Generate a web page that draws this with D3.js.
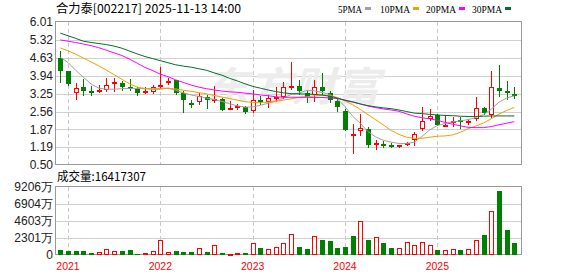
<!DOCTYPE html>
<html>
<head>
<meta charset="utf-8">
<script src="https://cdn.jsdelivr.net/npm/d3@7"></script>
<style>
  body { margin: 0; background: #fff; }
  svg { display: block; }
</style>
</head>
<body>
<div id="chart"></div>
<script>
// monthly k-line, 合力泰 002217
var months = ["2020-12",
  "2021-01","2021-02","2021-03","2021-04","2021-05","2021-06","2021-07","2021-08","2021-09","2021-10","2021-11","2021-12",
  "2022-01","2022-02","2022-03","2022-04","2022-05","2022-06","2022-07","2022-08","2022-09","2022-10","2022-11","2022-12",
  "2023-01","2023-02","2023-03","2023-04","2023-05","2023-06","2023-07","2023-08","2023-09","2023-10","2023-11","2023-12",
  "2024-01","2024-02","2024-03","2024-04","2024-05","2024-06","2024-07","2024-08","2024-09","2024-10","2024-11","2024-12",
  "2025-01","2025-02","2025-03","2025-04","2025-05","2025-06","2025-07","2025-08","2025-09","2025-10","2025-11"];

var open  = [4.62,4.12,3.26,3.50,3.36,3.33,3.40,3.65,3.65,3.52,3.43,3.30,3.33,3.50,3.65,3.76,3.26,2.90,2.93,3.11,
             3.00,3.06,2.67,2.68,2.73,2.57,3.00,2.91,3.08,3.13,3.46,3.54,3.27,3.18,3.50,3.26,2.98,2.59,1.67,1.80,
             1.89,1.26,1.31,1.28,1.23,1.27,1.46,1.89,2.28,2.44,2.03,2.12,2.25,2.17,2.26,2.70,2.41,3.47,3.36,3.25];
var high  = [4.88,4.14,3.66,3.83,3.56,3.57,3.85,3.84,3.72,3.80,3.50,3.49,3.58,4.28,3.85,3.79,3.36,3.00,3.27,3.21,
             3.56,3.08,2.95,2.85,2.77,3.39,3.14,3.18,3.49,3.71,4.47,3.76,3.40,3.76,4.03,3.34,3.08,2.67,2.08,2.46,
             1.95,1.46,1.41,1.36,1.28,1.38,1.76,2.72,2.67,2.46,2.41,2.35,2.36,2.28,3.11,2.73,4.11,4.34,3.72,3.49];
var low   = [3.68,3.60,3.06,3.21,3.18,3.30,3.36,3.36,3.40,3.40,3.21,3.26,3.27,3.47,3.61,3.24,2.54,2.72,2.85,2.70,
             2.91,2.62,2.66,2.66,2.50,2.54,2.85,2.72,2.98,3.08,3.44,3.24,2.93,2.95,3.21,2.93,2.57,1.86,0.97,1.67,
             1.18,1.11,1.18,1.18,1.18,1.26,1.28,1.86,2.25,2.03,2.02,1.99,1.92,2.09,2.23,2.46,2.36,3.16,3.04,3.08];
var close = [4.13,3.63,3.45,3.36,3.34,3.40,3.57,3.68,3.50,3.47,3.29,3.34,3.49,3.58,3.74,3.27,3.00,2.88,3.14,3.00,
             3.03,2.63,2.70,2.76,2.54,2.99,2.98,3.07,3.13,3.52,3.54,3.34,3.11,3.49,3.35,3.00,2.73,1.86,1.71,1.92,
             1.28,1.33,1.28,1.25,1.26,1.33,1.71,2.18,2.37,2.04,2.06,2.21,2.17,2.21,2.68,2.49,3.52,3.36,3.30,3.22];
// 成交量, 万
var volume = [677,542,542,542,271,361,767,496,542,677,135,226,496,1986,361,542,406,406,948,406,
              1309,271,135,271,271,1580,948,767,1083,1580,2798,1083,812,2527,2031,1895,948,1128,2572,4558,
              2031,2437,1625,948,903,1715,1309,1715,1309,677,632,767,677,767,1986,2708,5912,8665,3385,1642];

var ma5  = [4.65,4.45,4.15,3.88,3.62,3.46,3.42,3.42,3.44,3.45,3.45,3.44,3.41,3.42,3.46,3.38,3.28,3.20,3.14,3.08,
            3.02,2.95,2.86,2.78,2.73,2.74,2.80,2.88,2.96,3.08,3.22,3.27,3.37,3.36,3.30,3.22,3.05,2.75,2.38,2.10,
            1.78,1.58,1.45,1.38,1.33,1.33,1.38,1.60,1.85,2.02,2.10,2.16,2.20,2.25,2.33,2.44,2.65,2.92,3.08,3.17];
var ma10 = [5.01,4.90,4.77,4.62,4.47,4.32,4.15,3.98,3.80,3.63,3.50,3.45,3.44,3.45,3.46,3.43,3.38,3.34,3.29,3.24,
            3.18,3.12,3.06,3.00,2.94,2.91,2.90,2.92,2.96,3.00,3.05,3.10,3.13,3.16,3.18,3.18,3.10,2.97,2.82,2.64,
            2.44,2.24,2.04,1.83,1.68,1.57,1.53,1.53,1.57,1.61,1.62,1.66,1.76,1.90,2.00,2.12,2.28,2.46,2.60,2.72];
var ma20 = [5.32,5.27,5.22,5.16,5.10,5.02,4.92,4.82,4.72,4.58,4.42,4.26,4.14,4.00,3.90,3.78,3.68,3.58,3.50,3.44,
            3.39,3.35,3.32,3.30,3.27,3.24,3.20,3.17,3.13,3.11,3.11,3.11,3.11,3.10,3.10,3.09,3.06,3.00,2.93,2.85,
            2.77,2.71,2.66,2.62,2.57,2.47,2.38,2.32,2.28,2.22,2.14,2.07,2.01,1.95,1.94,1.94,1.98,2.05,2.11,2.17];
var ma30 = [5.58,5.48,5.38,5.27,5.22,5.18,5.14,5.08,5.00,4.89,4.78,4.68,4.60,4.52,4.44,4.36,4.31,4.27,4.21,4.15,
            4.05,3.96,3.84,3.74,3.63,3.53,3.46,3.39,3.33,3.28,3.25,3.24,3.23,3.22,3.20,3.15,3.08,2.99,2.93,2.85,
            2.79,2.74,2.70,2.67,2.62,2.56,2.50,2.48,2.45,2.43,2.41,2.40,2.38,2.37,2.37,2.38,2.39,2.39,2.39,2.39];

var priceTicks = [6.01,5.32,4.63,3.94,3.25,2.56,1.87,1.19,0.50];
var volTicks = [9206,6904,4603,2301,0];
var volTickLabels = ["9206万","6904万","4603万","2301万","0"];
var yearMonths = ["2021-01","2022-01","2023-01","2024-01","2025-01"];
var yearLabels = ["2021","2022","2023","2024","2025"];

var maNames = ["5PMA","10PMA","20PMA","30PMA"];
var maColors = ["#a0a0a0","#f0a000","#ff00ff","#00702e"];
var up = "#ff0000", down = "#008000";

var W = 578, H = 276;
var left = 56, right = 522;
var pTop = 22, pBottom = 165;
var vTop = 187, vBottom = 255;

var svg = d3.select("#chart").append("svg")
  .attr("width", W).attr("height", H)
  .style("font-family", "'Liberation Sans', Arial, sans-serif");

var x = d3.scalePoint().domain(months).range([60.3, 514.3]);
var y = d3.scaleLinear().domain([0.50, 6.01]).range([pBottom, pTop]);
var yv = d3.scaleLinear().domain([0, 9206]).range([vBottom, vTop]);

function px(v) { return Math.round(v) + 0.5; }

// gridlines
svg.append("g").selectAll("line").data(priceTicks.slice(1, -1)).enter().append("line")
  .attr("x1", left).attr("x2", right)
  .attr("y1", function(d) { return px(y(d)); }).attr("y2", function(d) { return px(y(d)); })
  .attr("stroke", "#d0d0d0").attr("shape-rendering", "crispEdges");
svg.append("g").selectAll("line").data(volTicks.slice(1, -1)).enter().append("line")
  .attr("x1", left).attr("x2", right)
  .attr("y1", function(d) { return px(yv(d)); }).attr("y2", function(d) { return px(yv(d)); })
  .attr("stroke", "#d0d0d0").attr("shape-rendering", "crispEdges");

[[pTop, pBottom], [vTop, vBottom]].forEach(function(r) {
  svg.append("g").selectAll("line").data(yearMonths).enter().append("line")
    .attr("x1", function(d) { return px(x(d)); }).attr("x2", function(d) { return px(x(d)); })
    .attr("y1", r[0]).attr("y2", r[1])
    .attr("stroke", "#c8c8c8").attr("stroke-dasharray", "4,3")
    .attr("shape-rendering", "crispEdges");
});

// watermark
svg.append("text")
  .attr("x", 204).attr("y", 101)
  .attr("textLength", 176).attr("lengthAdjust", "spacingAndGlyphs")
  .style("font-family", "'Noto Sans CJK SC', sans-serif")
  .style("font-size", "40px").style("font-weight", "bold").style("font-style", "italic")
  .attr("fill", "#ececec")
  .text("东方财富");

// frames
svg.append("rect").attr("x", left - 0.5).attr("y", pTop - 0.5)
  .attr("width", right - left).attr("height", pBottom - pTop)
  .attr("fill", "none").attr("stroke", "#999").attr("shape-rendering", "crispEdges");
svg.append("rect").attr("x", left - 0.5).attr("y", vTop - 0.5)
  .attr("width", right - left).attr("height", vBottom - vTop)
  .attr("fill", "none").attr("stroke", "#999").attr("shape-rendering", "crispEdges");

// y labels
svg.append("g").selectAll("text").data(priceTicks).enter().append("text")
  .attr("x", 53).attr("y", function(d) { return y(d); })
  .attr("dy", "0.35em").attr("text-anchor", "end")
  .style("font-size", "12px").attr("fill", "#222")
  .text(function(d) { return d.toFixed(2); });
svg.append("g").selectAll("text").data(volTicks).enter().append("text")
  .attr("x", 53).attr("y", function(d) { return yv(d); })
  .attr("dy", "0.35em").attr("text-anchor", "end")
  .style("font-size", "12px").attr("fill", "#222")
  .text(function(d, i) { return volTickLabels[i]; });

// year labels
svg.append("g").selectAll("text").data(yearMonths).enter().append("text")
  .attr("x", function(d) { return x(d); }).attr("y", 269.5)
  .attr("text-anchor", "middle")
  .style("font-size", "10.5px").attr("fill", "#ff0000")
  .text(function(d, i) { return yearLabels[i]; });

// candles
var candles = months.map(function(m, i) {
  return {m: m, o: open[i], h: high[i], l: low[i], c: close[i], v: volume[i],
          rise: i == 0 ? close[i] > open[i] : close[i] > close[i - 1]};
});

var g = svg.append("g").attr("shape-rendering", "crispEdges");
candles.forEach(function(d) {
  var cx = Math.round(x(d.m));
  var isUp = d.c > d.o;
  var col = isUp ? up : down;
  var top = Math.round(y(Math.max(d.o, d.c)));
  var bot = Math.round(y(Math.min(d.o, d.c)));
  if (bot - top < 1) bot = top + 1;
  g.append("line")
    .attr("x1", cx + 0.5).attr("x2", cx + 0.5)
    .attr("y1", Math.round(y(d.h))).attr("y2", Math.round(y(d.l)) + 1)
    .attr("stroke", col);
  if (isUp) {
    g.append("rect")
      .attr("x", cx - 1.5).attr("y", top + 0.5)
      .attr("width", 4).attr("height", Math.max(bot - top - 1, 1))
      .attr("fill", "#fff").attr("stroke", col);
  } else {
    g.append("rect")
      .attr("x", cx - 2).attr("y", top)
      .attr("width", 5).attr("height", Math.max(bot - top, 2))
      .attr("fill", col);
  }
});

// volume bars
candles.forEach(function(d) {
  var cx = Math.round(x(d.m));
  var t = Math.round(yv(d.v));
  if (d.rise) {
    g.append("rect")
      .attr("x", cx - 1.5).attr("y", t + 0.5)
      .attr("width", 4).attr("height", Math.max(vBottom - t - 1, 1))
      .attr("fill", "#fff").attr("stroke", up);
  } else {
    g.append("rect")
      .attr("x", cx - 2).attr("y", t)
      .attr("width", 5).attr("height", vBottom - t)
      .attr("fill", down);
  }
});

// moving averages
var line = d3.line()
  .x(function(d, i) { return x(months[i]); })
  .y(function(d) { return y(d); });
[ma5, ma10, ma20, ma30].forEach(function(s, k) {
  svg.append("path").datum(s)
    .attr("d", line)
    .attr("fill", "none")
    .attr("stroke", maColors[k])
    .attr("stroke-width", 1);
});

// title + legend
svg.append("text").attr("x", 56).attr("y", 13)
  .attr("textLength", 185).attr("lengthAdjust", "spacingAndGlyphs")
  .style("font-family", "'Noto Sans CJK SC', sans-serif")
  .style("font-size", "12px").attr("fill", "#000")
  .text("合力泰[002217] 2025-11-13 14:00");

var legX = [338, 380, 426, 472];
var legW = [24, 30, 30, 30];
maNames.forEach(function(n, k) {
  svg.append("text").attr("x", legX[k]).attr("y", 13)
    .attr("textLength", legW[k]).attr("lengthAdjust", "spacingAndGlyphs")
    .style("font-family", "'Liberation Serif', serif")
    .style("font-size", "11px").attr("fill", "#000")
    .text(n);
  svg.append("rect").attr("x", legX[k] + legW[k] + 3).attr("y", 7)
    .attr("width", 6).attr("height", 3)
    .attr("fill", maColors[k]);
});

svg.append("text").attr("x", 57).attr("y", 181)
  .attr("textLength", 89).attr("lengthAdjust", "spacingAndGlyphs")
  .style("font-family", "'Noto Sans CJK SC', sans-serif")
  .style("font-size", "12px").attr("fill", "#000")
  .text("成交量:16417307");
</script>
</body>
</html>
